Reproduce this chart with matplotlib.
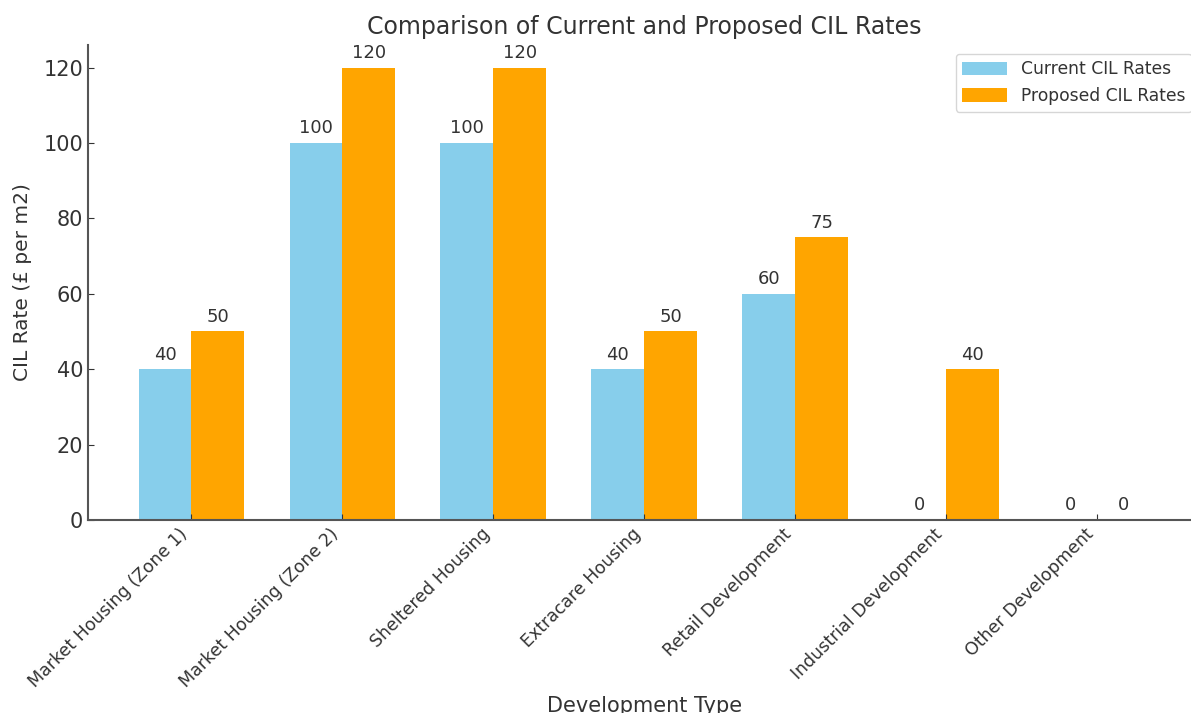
import matplotlib
matplotlib.use("Agg")
import matplotlib.pyplot as plt
import numpy as np

categories = ["Market Housing (Zone 1)", "Market Housing (Zone 2)", "Sheltered Housing",
              "Extracare Housing", "Retail Development", "Industrial Development",
              "Other Development"]
current_rates = [40, 100, 100, 40, 60, 0, 0]
proposed_rates = [50, 120, 120, 50, 75, 40, 0]

plt.rcParams['font.family'] = ['DejaVu Sans']
text_color = '#333333'

fig = plt.figure(figsize=(11.91, 7.13), dpi=100)
ax = fig.add_axes([0.0739, 0.2707, 0.934, 0.6662])

x = np.arange(len(categories))
w = 0.35
b1 = ax.bar(x - w/2, current_rates, w, color='#87CEEB', label='Current CIL Rates')
b2 = ax.bar(x + w/2, proposed_rates, w, color='#FFA500', label='Proposed CIL Rates')

for bars in (b1, b2):
    for r in bars:
        ax.annotate(f"{int(r.get_height())}", (r.get_x() + r.get_width()/2, r.get_height()),
                    xytext=(0, 4), textcoords='offset points', ha='center', va='bottom',
                    fontsize=13, color=text_color)

ax.set_xticks(x)
ax.set_xticklabels(categories, rotation=45, ha='right', fontsize=12.5, color=text_color)
ax.tick_params(axis='y', labelsize=15, colors=text_color, direction='in', length=4)
ax.tick_params(axis='x', direction='in', length=4, colors=text_color)
for s in ('top', 'right'):
    ax.spines[s].set_visible(False)
for s in ('left', 'bottom'):
    ax.spines[s].set_color('#555555')
    ax.spines[s].set_linewidth(1.5)

ax.set_ylim(0, 126)
ax.set_xlim(-0.685, 6.685)
ax.set_yticks([0, 20, 40, 60, 80, 100, 120])
ax.set_ylabel("CIL Rate (£ per m2)", fontsize=14.5, color=text_color, labelpad=8)
ax.set_xlabel("Development Type", fontsize=15, color=text_color)
ax.set_title("Comparison of Current and Proposed CIL Rates", fontsize=17, color=text_color, pad=8)
leg = ax.legend(loc='upper right', fontsize=12.3, handlelength=2.6, handleheight=0.8)
for t in leg.get_texts():
    t.set_color(text_color)

fig.savefig("out.png", dpi=100)
